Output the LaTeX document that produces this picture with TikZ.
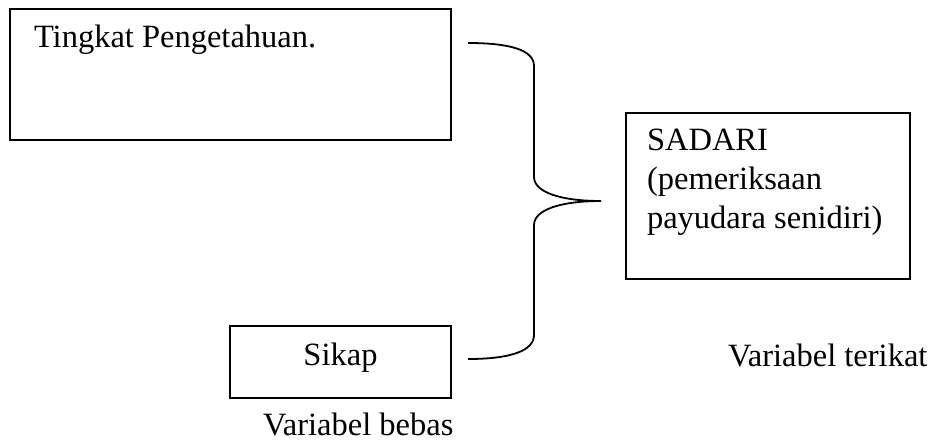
\documentclass[tikz,border=0pt]{standalone}
\usepackage{fontspec}
\setmainfont{Liberation Serif}
\begin{document}
\begin{tikzpicture}[x=1pt,y=-1pt,
  box/.style={draw=black,line width=1.6pt},
  lbl/.style={inner sep=0pt,outer sep=0pt,font=\fontsize{32.5}{39}\selectfont},
  brace/.style={draw=black,line width=1.8pt}]
\useasboundingbox (0,0) rectangle (933,441);
% boxes
\draw[box] (10,9) rectangle (451,140);
\node[lbl,anchor=base west] (tp) at (34,48) {Tingkat Pengetahuan.};
\draw[box] (230,326) rectangle (451,398);
\node[lbl,anchor=base] (sk) at (340.5,365) {Sikap};
\draw[box] (626,113) rectangle (910,279);
\node[lbl,anchor=base west] (s1) at (647,150) {SADARI};
\node[lbl,anchor=base west] (s2) at (647,189) {(pemeriksaan};
\node[lbl,anchor=base west] (s3) at (647,228) {payudara senidiri)};
\node[lbl,anchor=base west] (vt) at (728,366) {Variabel terikat};
\node[lbl,anchor=base west] (vb) at (263,435) {Variabel bebas};
% brace
\coordinate (bt) at (468,43);
\coordinate (bb) at (468,359);
\coordinate (tip) at (601,201);
\draw[brace] (bt) .. controls (510,43) and (534,50) .. (534,66)
  -- (534,177) .. controls (534,192) and (560,201) .. (tip)
  .. controls (560,201) and (534,210) .. (534,225)
  -- (534,335) .. controls (534,351) and (510,359) .. (bb);
\end{tikzpicture}
\end{document}
